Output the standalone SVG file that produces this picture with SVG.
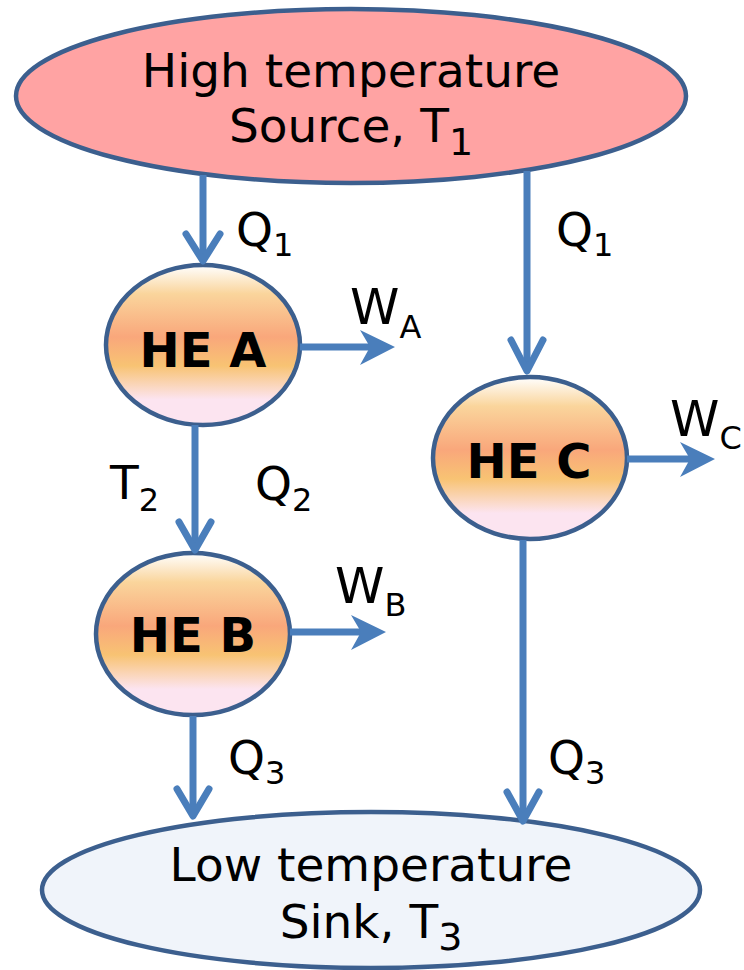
<svg xmlns="http://www.w3.org/2000/svg" width="744" height="970" viewBox="0 0 744 970">
<defs>
<linearGradient id="he" x1="0" y1="0" x2="0" y2="1">
<stop offset="0" stop-color="#FFFFFF"/>
<stop offset="0.18" stop-color="#FAD59C"/>
<stop offset="0.45" stop-color="#F9A77B"/>
<stop offset="0.63" stop-color="#F8C373"/>
<stop offset="0.84" stop-color="#FCE4F0"/>
<stop offset="1" stop-color="#FCE4F0"/>
</linearGradient>
</defs>
<style>
.node{stroke:#3C5F8E;stroke-width:4.5}
.big{font-family:"DejaVu Sans","Liberation Sans",sans-serif;font-size:47px;fill:#000;text-anchor:middle}
.he{font-family:"DejaVu Sans","Liberation Sans",sans-serif;font-size:48px;font-weight:bold;fill:#000;text-anchor:middle}
.lbl{font-family:"DejaVu Sans","Liberation Sans",sans-serif;font-size:47px;fill:#000}
.wl{font-size:50px}
.sub{font-size:32px}
.shaft{stroke:#4A7EBB;stroke-width:7;fill:none}
.chev{stroke:#4A7EBB;stroke-width:7;fill:none;stroke-linecap:round;stroke-linejoin:round}
.head{fill:#4A7EBB}
</style>
<g id="source">
<ellipse class="node" cx="351" cy="96" rx="335" ry="87" fill="#FFA3A3"/>
<text class="big" x="351" y="87">High temperature</text>
<text class="big" x="351" y="142">Source, T<tspan dy="13" font-size="38">1</tspan></text>
</g>
<g id="sink">
<ellipse class="node" cx="371" cy="890" rx="329" ry="78" fill="#F0F4FA"/>
<text class="big" x="371" y="881">Low temperature</text>
<text class="big" x="371" y="938">Sink, T<tspan dy="12" font-size="38">3</tspan></text>
</g>
<g id="heA">
<ellipse class="node" cx="203" cy="345" rx="97" ry="80" fill="url(#he)"/>
<text class="he" x="203" y="367">HE A</text>
</g>
<g id="heB">
<ellipse class="node" cx="193" cy="634" rx="97" ry="81" fill="url(#he)"/>
<text class="he" x="193" y="652">HE B</text>
</g>
<g id="heC">
<ellipse class="node" cx="530" cy="458" rx="97" ry="81" fill="url(#he)"/>
<text class="he" x="529" y="478">HE C</text>
</g>
<g id="connectors">
<line class="shaft" x1="203" y1="175" x2="203" y2="258"/>
<polyline class="chev" points="186,234 203,261 220,234"/>
<line class="shaft" x1="527" y1="171" x2="527" y2="368"/>
<polyline class="chev" points="511,340 527,371 543,340"/>
<line class="shaft" x1="195" y1="425" x2="195" y2="547"/>
<polyline class="chev" points="179,522 195,550 211,522"/>
<line class="shaft" x1="193" y1="716" x2="193" y2="813"/>
<polyline class="chev" points="177,789 193,816 209,789"/>
<line class="shaft" x1="523" y1="540" x2="523" y2="818"/>
<polyline class="chev" points="507,792 523,821 539,792"/>
<line class="shaft" x1="300" y1="347" x2="372" y2="347"/>
<polygon class="head" points="395,347 360,330 370,347 360,365"/>
<line class="shaft" x1="290" y1="632" x2="362" y2="632"/>
<polygon class="head" points="386,632 351,615 361,632 351,650"/>
<line class="shaft" x1="627" y1="459" x2="692" y2="459"/>
<polygon class="head" points="715,459 680,442 690,459 680,477"/>
</g>
<g id="labels">
<text class="lbl" x="236" y="246">Q<tspan class="sub" dy="10">1</tspan></text>
<text class="lbl" x="556" y="246">Q<tspan class="sub" dy="10">1</tspan></text>
<text class="lbl wl" x="350" y="324">W<tspan class="sub" dy="14">A</tspan></text>
<text class="lbl" x="110" y="499">T<tspan class="sub" dy="12">2</tspan></text>
<text class="lbl" x="255" y="500">Q<tspan class="sub" dy="11">2</tspan></text>
<text class="lbl wl" x="335" y="603">W<tspan class="sub" dy="13">B</tspan></text>
<text class="lbl wl" x="670" y="436">W<tspan class="sub" dy="13">C</tspan></text>
<text class="lbl" x="228" y="774">Q<tspan class="sub" dy="10">3</tspan></text>
<text class="lbl" x="548" y="774">Q<tspan class="sub" dy="10">3</tspan></text>
</g>
</svg>
